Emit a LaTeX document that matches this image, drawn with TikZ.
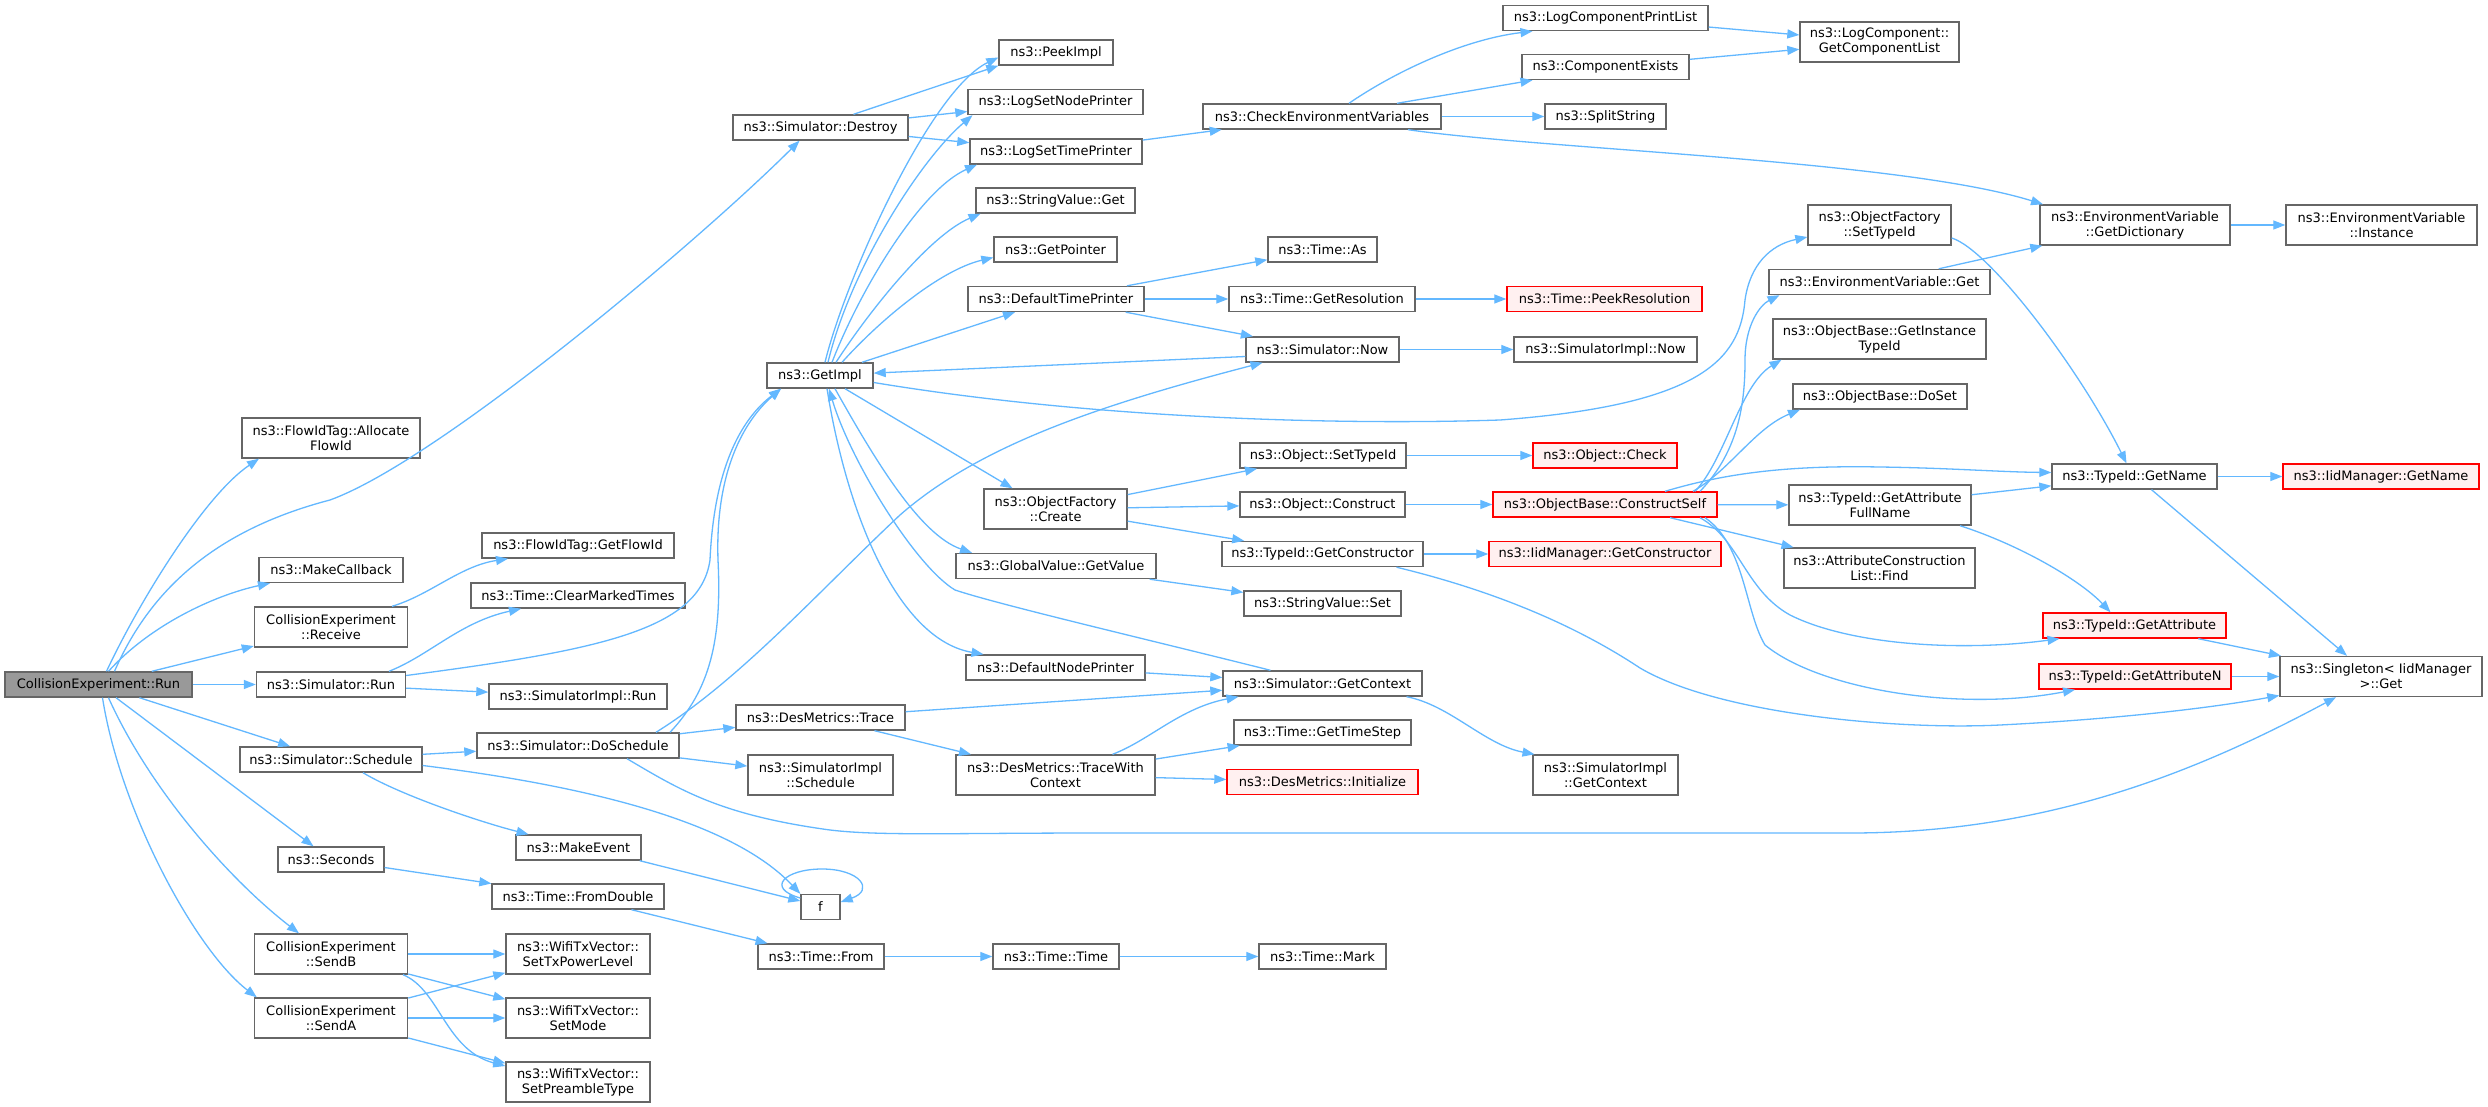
\documentclass[tikz,border=0pt]{standalone}
\usepackage{fontspec}
\setmainfont{DejaVu Sans}
\usetikzlibrary{arrows.meta}
\definecolor{edgecol}{HTML}{63B8FF}
\definecolor{bordercol}{HTML}{666666}
\definecolor{rootfill}{HTML}{999999}
\definecolor{redfill}{HTML}{FFF0F0}
\definecolor{redborder}{HTML}{FF0000}
\newcommand\dgfont{\fontsize{13}{15}\selectfont}
\tikzset{
  nd/.style={draw=bordercol, line width=1.4pt, fill=white, minimum height=25pt, inner sep=0pt, font=\dgfont, align=center},
  nd2/.style={nd, minimum height=40pt},
  rootnd/.style={fill=rootfill},
  rednd/.style={draw=redborder, fill=redfill},
  e/.style={draw=edgecol, line width=1.3pt, -{Triangle[length=12pt,width=9pt]}}
}
\begin{document}
\begin{tikzpicture}[x=1pt,y=-1pt]
\fill[white] (0,0) rectangle (2488,1107);
\useasboundingbox (0,0) rectangle (2488,1107);
% column 1
\node[nd, rootnd, minimum width=187pt] (run) at (98.5,684.5) {CollisionExperiment::Run};
% column 2
\node[nd2, minimum width=178pt] (alloc) at (331,438) {ns3::FlowIdTag::Allocate\\FlowId};
\node[nd, minimum width=144pt] (mkcb) at (331,570) {ns3::MakeCallback};
\node[nd2, minimum width=153pt] (receive) at (331,627) {CollisionExperiment\\::Receive};
\node[nd, minimum width=149pt] (simrun) at (331,684.5) {ns3::Simulator::Run};
\node[nd, minimum width=182pt] (schedule) at (331,759.5) {ns3::Simulator::Schedule};
\node[nd, minimum width=106pt] (seconds) at (331,859.5) {ns3::Seconds};
\node[nd2, minimum width=153pt] (sendb) at (331,954) {CollisionExperiment\\::SendB};
\node[nd2, minimum width=153pt] (senda) at (331,1018) {CollisionExperiment\\::SendA};
% column 3
\node[nd, minimum width=192pt] (getflowid) at (578,545.5) {ns3::FlowIdTag::GetFlowId};
\node[nd, minimum width=214pt] (clearmarked) at (578,595.5) {ns3::Time::ClearMarkedTimes};
\node[nd, minimum width=178pt] (simimplrun) at (578,696.5) {ns3::SimulatorImpl::Run};
\node[nd, minimum width=202pt] (doschedule) at (578,745.5) {ns3::Simulator::DoSchedule};
\node[nd, minimum width=125pt] (makeevent) at (578.5,847.5) {ns3::MakeEvent};
\node[nd, minimum width=172pt] (fromdouble) at (578,896.5) {ns3::Time::FromDouble};
\node[nd2, minimum width=144pt] (settx) at (578,954) {ns3::WifiTxVector::\\SetTxPowerLevel};
\node[nd2, minimum width=144pt] (setmode) at (578,1018) {ns3::WifiTxVector::\\SetMode};
\node[nd2, minimum width=144pt] (setpre) at (578,1082) {ns3::WifiTxVector::\\SetPreambleType};
% column 4
\node[nd, minimum width=175pt] (destroy) at (820.5,127.5) {ns3::Simulator::Destroy};
\node[nd, minimum width=106pt] (getimpl) at (820,375.5) {ns3::GetImpl};
\node[nd, minimum width=169pt] (trace) at (820.5,717.5) {ns3::DesMetrics::Trace};
\node[nd2, minimum width=145pt] (simimplsched) at (820.5,775) {ns3::SimulatorImpl\\::Schedule};
\node[nd, minimum width=39pt] (f) at (820.5,907) {f};
\node[nd, minimum width=126pt] (timefrom) at (821,956.5) {ns3::Time::From};
% column 5
\node[nd, minimum width=114pt] (peekimpl) at (1056,52.5) {ns3::PeekImpl};
\node[nd, minimum width=175pt] (lognode) at (1055.5,102) {ns3::LogSetNodePrinter};
\node[nd, minimum width=172pt] (logtime) at (1056,151.5) {ns3::LogSetTimePrinter};
\node[nd, minimum width=159pt] (strget) at (1055.5,200.5) {ns3::StringValue::Get};
\node[nd, minimum width=123pt] (getptr) at (1055.5,249.5) {ns3::GetPointer};
\node[nd, minimum width=176pt] (deftime) at (1056,299) {ns3::DefaultTimePrinter};
\node[nd2, minimum width=143pt] (ofcreate) at (1055.5,509) {ns3::ObjectFactory\\::Create};
\node[nd, minimum width=200pt] (gvget) at (1056,566) {ns3::GlobalValue::GetValue};
\node[nd, minimum width=179pt] (defnode) at (1055.5,667.5) {ns3::DefaultNodePrinter};
\node[nd2, minimum width=199pt] (tracectx) at (1055.5,775) {ns3::DesMetrics::TraceWith\\Context};
\node[nd, minimum width=126pt] (timetime) at (1056,956.5) {ns3::Time::Time};
% column 6
\node[nd, minimum width=238pt] (checkenv) at (1322,116.5) {ns3::CheckEnvironmentVariables};
\node[nd, minimum width=109pt] (timeas) at (1322.5,249.5) {ns3::Time::As};
\node[nd, minimum width=186pt] (getres) at (1322,299) {ns3::Time::GetResolution};
\node[nd, minimum width=153pt] (simnow) at (1322.5,349.5) {ns3::Simulator::Now};
\node[nd, minimum width=166pt] (objsettype) at (1323,455.5) {ns3::Object::SetTypeId};
\node[nd, minimum width=165pt] (objconstruct) at (1322.5,504.5) {ns3::Object::Construct};
\node[nd, minimum width=201pt] (tidgetctor) at (1322.5,554) {ns3::TypeId::GetConstructor};
\node[nd, minimum width=157pt] (strset) at (1322.5,603.5) {ns3::StringValue::Set};
\node[nd, minimum width=199pt] (getctx) at (1322.5,683.5) {ns3::Simulator::GetContext};
\node[nd, minimum width=177pt] (timestep) at (1322.5,732.5) {ns3::Time::GetTimeStep};
\node[nd, rednd, minimum width=191pt] (dminit) at (1322.5,782) {ns3::DesMetrics::Initialize};
\node[nd, minimum width=127pt] (timemark) at (1322.5,956.5) {ns3::Time::Mark};
% column 7
\node[nd, minimum width=205pt] (logprint) at (1605.5,18) {ns3::LogComponentPrintList};
\node[nd, minimum width=167pt] (compexists) at (1605.5,67) {ns3::ComponentExists};
\node[nd, minimum width=121pt] (split) at (1605.5,116.5) {ns3::SplitString};
\node[nd, rednd, minimum width=195pt] (peekres) at (1604.5,299) {ns3::Time::PeekResolution};
\node[nd, minimum width=183pt] (simimplnow) at (1605.5,349.5) {ns3::SimulatorImpl::Now};
\node[nd, rednd, minimum width=144pt] (objcheck) at (1605,455.5) {ns3::Object::Check};
\node[nd, rednd, minimum width=224pt] (constructself) at (1605,504.5) {ns3::ObjectBase::ConstructSelf};
\node[nd, rednd, minimum width=232pt] (iidgetctor) at (1605,554) {ns3::IidManager::GetConstructor};
\node[nd2, minimum width=145pt] (simimplgetctx) at (1605.5,775) {ns3::SimulatorImpl\\::GetContext};
% column 8
\node[nd2, minimum width=159pt] (getcomplist) at (1879.5,42) {ns3::LogComponent::\\GetComponentList};
\node[nd2, minimum width=143pt] (ofsettype) at (1879.5,225) {ns3::ObjectFactory\\::SetTypeId};
\node[nd, minimum width=221pt] (envget) at (1879.5,282) {ns3::EnvironmentVariable::Get};
\node[nd2, minimum width=213pt] (getinsttid) at (1879.5,339) {ns3::ObjectBase::GetInstance\\TypeId};
\node[nd, minimum width=174pt] (doset) at (1880,396.5) {ns3::ObjectBase::DoSet};
\node[nd2, minimum width=182pt] (getattrfull) at (1880,505) {ns3::TypeId::GetAttribute\\FullName};
\node[nd2, minimum width=191pt] (find) at (1879.5,568) {ns3::AttributeConstruction\\List::Find};
% column 9
\node[nd2, minimum width=190pt] (getdict) at (2135,225) {ns3::EnvironmentVariable\\::GetDictionary};
\node[nd, minimum width=165pt] (getname) at (2134.5,476.5) {ns3::TypeId::GetName};
\node[nd, rednd, minimum width=183pt] (getattr) at (2134.5,625.5) {ns3::TypeId::GetAttribute};
\node[nd, rednd, minimum width=192pt] (getattrn) at (2135,676.5) {ns3::TypeId::GetAttributeN};
% column 10
\node[nd2, minimum width=191pt] (instance) at (2381.5,225) {ns3::EnvironmentVariable\\::Instance};
\node[nd, rednd, minimum width=196pt] (iidgetname) at (2381,476.5) {ns3::IidManager::GetName};
\node[nd2, minimum width=202pt] (singleton) at (2381,676.5) {ns3::Singleton< IidManager\\ >::Get};

% ---- edges from Run
\draw[e] ([xshift=16pt]run.north) .. controls (150,590) and (215,530) .. (330,500) .. controls (440,460) and (700,240) .. ([xshift=-21pt]destroy.south);
\draw[e] ([xshift=8pt]run.north) .. controls (140,600) and (205,495) .. ([xshift=-72pt]alloc.south);
\draw[e] ([xshift=10pt]run.north) .. controls (150,625) and (215,595) .. ([xshift=-61pt]mkcb.south);
\draw[e] (run) -- (receive);
\draw[e] (run) -- (simrun);
\draw[e] (run) -- (schedule);
\draw[e] (run) -- (seconds);
\draw[e] ([xshift=10pt]run.south) .. controls (150,790) and (230,880) .. ([xshift=-32pt]sendb.north);
\draw[e] ([xshift=4pt]run.south) .. controls (120,810) and (195,950) .. ([xshift=3pt]senda.north west);
% ---- column 2 sources
\draw[e] ([xshift=61pt]receive.north) .. controls (430,595) and (460,566) .. ([xshift=-70pt]getflowid.south);
\draw[e] ([xshift=58pt]simrun.north) .. controls (430,655) and (460,622) .. ([xshift=-57pt]clearmarked.south);
\draw[e] (simrun) -- (simimplrun);
\draw[e] ([yshift=9pt]simrun.east) .. controls (600,650) and (700,630) .. (710,560) .. controls (714,470) and (740,420) .. ([xshift=-39pt]getimpl.south);
\draw[e] (schedule) -- (doschedule);
\draw[e] ([xshift=32pt]schedule.south) .. controls (400,795) and (480,822) .. ([xshift=-50pt]makeevent.north);
\draw[e] ([yshift=-6pt]schedule.east) .. controls (620,790) and (740,830) .. (f.north west);
\draw[e] ([xshift=-2pt]makeevent.south east) -- ([yshift=6pt]f.west);
\draw[e] ([yshift=9pt]f.west) .. controls (765,888) and (785,869) .. (822,869) .. controls (860,869) and (875,890) .. ([yshift=5pt]f.east);
\draw[e] (seconds) -- (fromdouble);
\draw[e] (fromdouble) -- (timefrom);
\draw[e] (timefrom) -- (timetime);
\draw[e] (timetime) -- (timemark);
\draw[e] (sendb) -- (settx);
\draw[e] (sendb) -- (setmode);
\draw[e] ([xshift=72pt]sendb.south) .. controls (440,990) and (445,1050) .. ([yshift=16pt]setpre.west);
\draw[e] (senda) -- (settx);
\draw[e] (senda) -- (setmode);
\draw[e] (senda) -- (setpre);
% ---- DoSchedule
\draw[e] (doschedule) -- (trace);
\draw[e] (doschedule) -- (simimplsched);
\draw[e] ([xshift=92pt]doschedule.north) .. controls (710,690) and (722,640) .. (718,560) .. controls (715,470) and (745,420) .. ([xshift=-39pt]getimpl.south);
\draw[e] ([xshift=78pt]doschedule.north) .. controls (740,680) and (820,590) .. (900,515) .. controls (980,445) and (1100,405) .. ([xshift=-60pt]simnow.south);
\draw[e] ([xshift=49pt]doschedule.south) .. controls (680,790) and (720,815) .. (830,830) .. controls (880,836) and (950,833) .. (1100,833) -- (1850,833) .. controls (2050,833) and (2200,770) .. ([xshift=-45pt]singleton.south);
% ---- DesMetrics / context
\draw[e] (trace) -- (getctx);
\draw[e] (trace) -- (tracectx);
\draw[e] (defnode) -- (getctx);
\draw[e] ([xshift=57pt]tracectx.north) .. controls (1150,740) and (1180,708) .. ([xshift=-84pt]getctx.south);
\draw[e] (tracectx) -- (timestep);
\draw[e] (tracectx) -- (dminit);
\draw[e] ([xshift=84pt]getctx.south) .. controls (1450,705) and (1485,745) .. ([xshift=-71pt]simimplgetctx.north);
\draw[e] ([xshift=-52pt]getctx.north) .. controls (1150,640) and (1000,605) .. (955,590) .. controls (915,566) and (850,460) .. ([xshift=9pt]getimpl.south);
% ---- GetImpl
\draw[e] ([xshift=7pt]getimpl.south) .. controls (848,520) and (900,640) .. ([xshift=-72pt]defnode.north);
\draw[e] ([xshift=15pt]getimpl.south) .. controls (875,460) and (920,535) .. ([xshift=-84pt]gvget.north);
\draw[e] ([xshift=25pt]getimpl.south) -- ([xshift=-43pt]ofcreate.north);
\draw[e] ([yshift=-7pt]getimpl.east) .. controls (1100,420) and (1350,425) .. (1500,420) .. controls (1700,405) and (1740,360) .. (1745,300) .. controls (1750,265) and (1770,245) .. ([yshift=-12pt]ofsettype.west);
\draw[e] ([yshift=-7pt]simnow.west) -- (getimpl);
\draw[e] ([xshift=5pt]getimpl.north) .. controls (845,280) and (930,90) .. ([yshift=-5pt]peekimpl.west);
\draw[e] ([xshift=8pt]getimpl.north) .. controls (850,270) and (920,160) .. ([xshift=-83pt]lognode.south);
\draw[e] ([xshift=12pt]getimpl.north) .. controls (860,290) and (920,190) .. ([xshift=-79pt]logtime.south);
\draw[e] ([xshift=16pt]getimpl.north) .. controls (870,310) and (930,235) .. ([xshift=-75pt]strget.south);
\draw[e] ([xshift=22pt]getimpl.north) .. controls (880,320) and (940,270) .. ([yshift=-8pt]getptr.west);
\draw[e] ([xshift=42pt]getimpl.north) -- ([xshift=-41pt]deftime.south);
% ---- Destroy
\draw[e] ([xshift=33pt]destroy.north) -- (peekimpl.south west);
\draw[e] (destroy) -- (lognode);
\draw[e] (destroy) -- (logtime);
\draw[e] (logtime) -- (checkenv);
% ---- CheckEnvironmentVariables
\draw[e] ([xshift=27pt]checkenv.north) .. controls (1390,75) and (1460,40) .. ([xshift=-73pt]logprint.south);
\draw[e] ([xshift=75pt]checkenv.north) -- ([xshift=-73pt]compexists.south);
\draw[e] (checkenv) -- (split);
\draw[e] ([xshift=86pt]checkenv.south) .. controls (1550,150) and (1900,160) .. ([xshift=-92pt]getdict.north);
\draw[e] (logprint) -- (getcomplist);
\draw[e] (compexists) -- (getcomplist);
% ---- DefaultTimePrinter
\draw[e] (deftime) -- (timeas);
\draw[e] (deftime) -- (getres);
\draw[e] (deftime) -- (simnow);
\draw[e] (getres) -- (peekres);
\draw[e] (simnow) -- (simimplnow);
% ---- ObjectFactory::Create
\draw[e] (ofcreate) -- (objsettype);
\draw[e] (ofcreate) -- (objconstruct);
\draw[e] (ofcreate) -- (tidgetctor);
\draw[e] (objsettype) -- (objcheck);
\draw[e] (objconstruct) -- (constructself);
\draw[e] (tidgetctor) -- (iidgetctor);
\draw[e] ([xshift=74pt]tidgetctor.south) .. controls (1470,585) and (1560,615) .. (1640,668) .. controls (1720,715) and (1900,730) .. (2000,725) .. controls (2100,720) and (2200,710) .. ([yshift=-19pt]singleton.west);
\draw[e] (gvget) -- (strset);
% ---- ConstructSelf
\draw[e] ([xshift=95pt]constructself.north) .. controls (1740,450) and (1745,400) .. (1745,360) .. controls (1745,325) and (1760,305) .. ([xshift=-100pt]envget.south);
\draw[e] ([xshift=90pt]constructself.north) .. controls (1725,460) and (1740,385) .. ([xshift=-98pt]getinsttid.south);
\draw[e] ([xshift=88pt]constructself.north) .. controls (1730,470) and (1755,428) .. ([xshift=-80pt]doset.south);
\draw[e] ([xshift=60pt]constructself.north) .. controls (1720,475) and (1780,465) .. (1880,467) .. controls (1950,468) and (2000,472) .. ([yshift=4pt]getname.west);
\draw[e] (constructself) -- (getattrfull);
\draw[e] ([xshift=65pt]constructself.south) -- ([xshift=-86pt]find.north);
\draw[e] ([xshift=95pt]constructself.south) .. controls (1740,540) and (1745,590) .. (1790,615) .. controls (1850,645) and (1960,652) .. ([xshift=-75pt]getattr.south);
\draw[e] ([xshift=100pt]constructself.south) .. controls (1745,545) and (1745,612) .. (1765,645) .. controls (1820,690) and (1960,712) .. ([xshift=-60pt]getattrn.south);
% ---- right side
\draw[e] (getattrfull) -- (getname);
\draw[e] ([xshift=80pt]getattrfull.south) .. controls (2020,545) and (2080,580) .. ([xshift=-24pt]getattr.north);
\draw[e] ([yshift=-13pt]ofsettype.east) .. controls (1990,250) and (2080,370) .. ([xshift=-8pt]getname.north);
\draw[e] (envget) -- (getdict);
\draw[e] (getdict) -- (instance);
\draw[e] (getname) -- (iidgetname);
\draw[e] ([xshift=17pt]getname.south) -- ([xshift=-34pt]singleton.north);
\draw[e] (getattr) -- (singleton);
\draw[e] (getattrn) -- (singleton);
\end{tikzpicture}
\end{document}
